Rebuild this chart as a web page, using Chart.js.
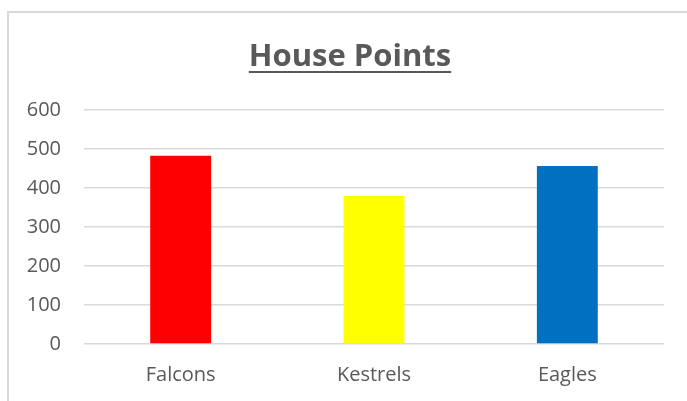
<!DOCTYPE html>
<html>
<head>
<meta charset="utf-8">
<script src="https://cdn.jsdelivr.net/npm/chart.js@4"></script>
<style>
  html, body { margin: 0; padding: 0; background: #fff; }
  #wrap { width: 687px; height: 401px; position: relative; }
</style>
</head>
<body>
<div id="wrap"><canvas id="houseChart" width="687" height="401"></canvas></div>
<script>
// House points per house
const houses = ["Falcons", "Kestrels", "Eagles"];
const points = [483, 380, 457];
const houseColors = ["#FF0000", "#FFFF00", "#0070C0"];
const yTicks = [0, 100, 200, 300, 400, 500, 600];

const textGrey = '#595959';
const lineGrey = '#d9d9d9';
const titleFont = { family: 'Open Sans', size: 31, weight: 'bold', lineHeight: 1.2 };

// frame of the chart area (left and top edges only are visible)
const framePlugin = {
  id: 'frame',
  beforeDraw(chart) {
    const ctx = chart.ctx;
    ctx.save();
    ctx.strokeStyle = lineGrey;
    ctx.lineWidth = 2;
    ctx.beginPath();
    ctx.moveTo(8, 401);
    ctx.lineTo(8, 12);
    ctx.lineTo(687, 12);
    ctx.stroke();
    ctx.restore();
  }
};

// Chart.js has no underlined title, so draw the line under it;
// also nudge the title so it sits where the original one does
const underlinePlugin = {
  id: 'underline',
  afterLayout(chart) {
    const t = chart.titleBlock;
    if (t) t.left = 36;
  },
  afterDraw(chart) {
    const t = chart.titleBlock;
    if (!t) return;
    const ctx = chart.ctx;
    ctx.save();
    ctx.font = 'bold ' + titleFont.size + 'px "Open Sans"';
    const w = ctx.measureText(t.options.text).width;
    const cx = (t.left + t.right) / 2;
    ctx.strokeStyle = textGrey;
    ctx.lineWidth = 2;
    ctx.beginPath();
    ctx.moveTo(cx - w / 2, 72);
    ctx.lineTo(cx + w / 2, 72);
    ctx.stroke();
    ctx.restore();
  }
};

const ctx = document.getElementById('houseChart').getContext('2d');

const houseChart = new Chart(ctx, {
  type: 'bar',
  data: {
    labels: houses,
    datasets: [{
      label: 'House Points',
      data: points,
      backgroundColor: houseColors,
      borderWidth: 0,
      categoryPercentage: 1,
      barPercentage: 0.315
    }]
  },
  options: {
    responsive: false,
    animation: false,
    layout: { padding: { left: 0, right: 23, top: 0, bottom: 15 } },
    plugins: {
      legend: { display: false },
      tooltip: { enabled: false },
      title: {
        display: true,
        text: 'House Points',
        color: textGrey,
        font: titleFont,
        padding: { top: 39, bottom: 34 }
      }
    },
    scales: {
      x: {
        afterFit(scale) { scale.height = 42; },
        grid: { display: false, drawTicks: false },
        border: { display: false },
        ticks: {
          color: textGrey,
          padding: 19,
          font: { family: 'Open Sans', size: 20 }
        }
      },
      y: {
        min: 0,
        max: 600,
        afterBuildTicks(scale) {
          scale.ticks = yTicks.map(v => ({ value: v }));
        },
        afterFit(scale) { scale.width = 84; },
        grid: { color: lineGrey, lineWidth: 1.5, drawTicks: false },
        border: { display: false },
        ticks: {
          color: textGrey,
          padding: 23,
          font: { family: 'Open Sans', size: 20 }
        }
      }
    }
  },
  plugins: [framePlugin, underlinePlugin]
});
</script>
</body>
</html>
